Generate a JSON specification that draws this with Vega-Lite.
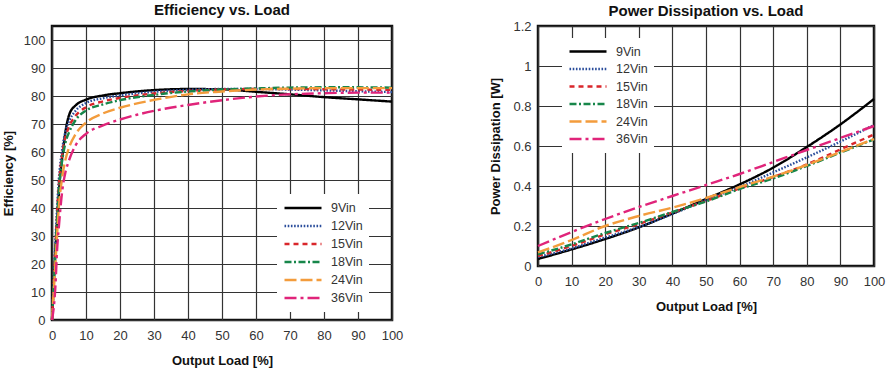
{
  "$schema": "https://vega.github.io/schema/vega-lite/v6.json",
  "background": "white",
  "padding": {"left": 1, "top": 1, "right": 2, "bottom": 0},
  "spacing": 83,
  "datasets": {
    "eff": [
      {"s":"9Vin","x":0,"y":0},{"s":"9Vin","x":0.8,"y":20},{"s":"9Vin","x":1.5,"y":35},{"s":"9Vin","x":2.3,"y":50},{"s":"9Vin","x":3.2,"y":60},{"s":"9Vin","x":4.2,"y":69},{"s":"9Vin","x":5.2,"y":73.8},{"s":"9Vin","x":7,"y":76.7},{"s":"9Vin","x":10,"y":78.7},{"s":"9Vin","x":15,"y":80.2},{"s":"9Vin","x":20,"y":81},{"s":"9Vin","x":30,"y":82.1},{"s":"9Vin","x":40,"y":82.5},{"s":"9Vin","x":50,"y":82.4},{"s":"9Vin","x":60,"y":81.5},{"s":"9Vin","x":70,"y":80.6},{"s":"9Vin","x":80,"y":79.6},{"s":"9Vin","x":90,"y":78.8},{"s":"9Vin","x":100,"y":78},
      {"s":"12Vin","x":0,"y":0},{"s":"12Vin","x":1,"y":28},{"s":"12Vin","x":2,"y":50},{"s":"12Vin","x":3,"y":61},{"s":"12Vin","x":4,"y":67.5},{"s":"12Vin","x":5,"y":71},{"s":"12Vin","x":7,"y":74.8},{"s":"12Vin","x":10,"y":77.5},{"s":"12Vin","x":15,"y":79.2},{"s":"12Vin","x":20,"y":80.2},{"s":"12Vin","x":30,"y":81.5},{"s":"12Vin","x":40,"y":82.2},{"s":"12Vin","x":50,"y":82.5},{"s":"12Vin","x":60,"y":82.5},{"s":"12Vin","x":70,"y":82.3},{"s":"12Vin","x":80,"y":82},{"s":"12Vin","x":90,"y":81.7},{"s":"12Vin","x":100,"y":81.4},
      {"s":"15Vin","x":0,"y":0},{"s":"15Vin","x":1,"y":26},{"s":"15Vin","x":2,"y":48},{"s":"15Vin","x":3,"y":59},{"s":"15Vin","x":4,"y":65.5},{"s":"15Vin","x":5,"y":69},{"s":"15Vin","x":7,"y":73},{"s":"15Vin","x":10,"y":76},{"s":"15Vin","x":15,"y":78.1},{"s":"15Vin","x":20,"y":79.3},{"s":"15Vin","x":30,"y":80.9},{"s":"15Vin","x":40,"y":81.8},{"s":"15Vin","x":50,"y":82.3},{"s":"15Vin","x":60,"y":82.5},{"s":"15Vin","x":70,"y":82.5},{"s":"15Vin","x":80,"y":82.4},{"s":"15Vin","x":90,"y":82.3},{"s":"15Vin","x":100,"y":82.2},
      {"s":"18Vin","x":0,"y":0},{"s":"18Vin","x":1,"y":24},{"s":"18Vin","x":2,"y":46},{"s":"18Vin","x":3,"y":57},{"s":"18Vin","x":4,"y":63.5},{"s":"18Vin","x":5,"y":67},{"s":"18Vin","x":7,"y":71.5},{"s":"18Vin","x":10,"y":74.8},{"s":"18Vin","x":15,"y":77},{"s":"18Vin","x":20,"y":78.5},{"s":"18Vin","x":30,"y":80.4},{"s":"18Vin","x":40,"y":81.6},{"s":"18Vin","x":50,"y":82.3},{"s":"18Vin","x":60,"y":82.7},{"s":"18Vin","x":70,"y":83},{"s":"18Vin","x":80,"y":83.1},{"s":"18Vin","x":90,"y":83.1},{"s":"18Vin","x":100,"y":83},
      {"s":"24Vin","x":0,"y":0},{"s":"24Vin","x":1,"y":20},{"s":"24Vin","x":2,"y":40},{"s":"24Vin","x":3,"y":51},{"s":"24Vin","x":4,"y":57.5},{"s":"24Vin","x":5,"y":61.5},{"s":"24Vin","x":7,"y":66.5},{"s":"24Vin","x":10,"y":70.5},{"s":"24Vin","x":15,"y":73.8},{"s":"24Vin","x":20,"y":75.8},{"s":"24Vin","x":30,"y":78.6},{"s":"24Vin","x":40,"y":80.6},{"s":"24Vin","x":50,"y":81.6},{"s":"24Vin","x":60,"y":82.3},{"s":"24Vin","x":70,"y":82.6},{"s":"24Vin","x":80,"y":82.8},{"s":"24Vin","x":90,"y":82.8},{"s":"24Vin","x":100,"y":82.8},
      {"s":"36Vin","x":0,"y":0},{"s":"36Vin","x":1,"y":12},{"s":"36Vin","x":1.5,"y":25},{"s":"36Vin","x":2,"y":33},{"s":"36Vin","x":3,"y":46},{"s":"36Vin","x":4,"y":53},{"s":"36Vin","x":5,"y":57},{"s":"36Vin","x":7,"y":62.5},{"s":"36Vin","x":10,"y":66.5},{"s":"36Vin","x":15,"y":69.5},{"s":"36Vin","x":20,"y":71.6},{"s":"36Vin","x":25,"y":73.3},{"s":"36Vin","x":30,"y":74.7},{"s":"36Vin","x":40,"y":76.8},{"s":"36Vin","x":50,"y":78.5},{"s":"36Vin","x":60,"y":79.8},{"s":"36Vin","x":70,"y":80.6},{"s":"36Vin","x":80,"y":81},{"s":"36Vin","x":90,"y":81.2},{"s":"36Vin","x":100,"y":81.2}
    ],
    "pd": [
      {"s":"9Vin","x":0,"y":0.035},{"s":"9Vin","x":10,"y":0.083},{"s":"9Vin","x":20,"y":0.135},{"s":"9Vin","x":30,"y":0.193},{"s":"9Vin","x":40,"y":0.262},{"s":"9Vin","x":50,"y":0.335},{"s":"9Vin","x":60,"y":0.408},{"s":"9Vin","x":70,"y":0.492},{"s":"9Vin","x":80,"y":0.595},{"s":"9Vin","x":90,"y":0.708},{"s":"9Vin","x":100,"y":0.835},
      {"s":"12Vin","x":0,"y":0.045},{"s":"12Vin","x":10,"y":0.088},{"s":"12Vin","x":20,"y":0.142},{"s":"12Vin","x":30,"y":0.195},{"s":"12Vin","x":40,"y":0.26},{"s":"12Vin","x":50,"y":0.33},{"s":"12Vin","x":60,"y":0.395},{"s":"12Vin","x":70,"y":0.468},{"s":"12Vin","x":80,"y":0.543},{"s":"12Vin","x":90,"y":0.622},{"s":"12Vin","x":100,"y":0.705},
      {"s":"15Vin","x":0,"y":0.05},{"s":"15Vin","x":10,"y":0.1},{"s":"15Vin","x":20,"y":0.158},{"s":"15Vin","x":30,"y":0.21},{"s":"15Vin","x":40,"y":0.268},{"s":"15Vin","x":50,"y":0.325},{"s":"15Vin","x":60,"y":0.388},{"s":"15Vin","x":70,"y":0.445},{"s":"15Vin","x":80,"y":0.508},{"s":"15Vin","x":90,"y":0.583},{"s":"15Vin","x":100,"y":0.658},
      {"s":"18Vin","x":0,"y":0.058},{"s":"18Vin","x":10,"y":0.108},{"s":"18Vin","x":20,"y":0.165},{"s":"18Vin","x":30,"y":0.215},{"s":"18Vin","x":40,"y":0.27},{"s":"18Vin","x":50,"y":0.322},{"s":"18Vin","x":60,"y":0.385},{"s":"18Vin","x":70,"y":0.438},{"s":"18Vin","x":80,"y":0.5},{"s":"18Vin","x":90,"y":0.567},{"s":"18Vin","x":100,"y":0.633},
      {"s":"24Vin","x":0,"y":0.068},{"s":"24Vin","x":10,"y":0.13},{"s":"24Vin","x":20,"y":0.2},{"s":"24Vin","x":30,"y":0.25},{"s":"24Vin","x":40,"y":0.292},{"s":"24Vin","x":50,"y":0.34},{"s":"24Vin","x":60,"y":0.395},{"s":"24Vin","x":70,"y":0.447},{"s":"24Vin","x":80,"y":0.505},{"s":"24Vin","x":90,"y":0.57},{"s":"24Vin","x":100,"y":0.635},
      {"s":"36Vin","x":0,"y":0.1},{"s":"36Vin","x":10,"y":0.17},{"s":"36Vin","x":20,"y":0.235},{"s":"36Vin","x":30,"y":0.295},{"s":"36Vin","x":40,"y":0.35},{"s":"36Vin","x":50,"y":0.405},{"s":"36Vin","x":60,"y":0.46},{"s":"36Vin","x":70,"y":0.52},{"s":"36Vin","x":80,"y":0.58},{"s":"36Vin","x":90,"y":0.64},{"s":"36Vin","x":100,"y":0.7}
    ]
  },
  "config": {
    "view": {"stroke": "#111", "strokeWidth": 2.5},
    "font": "Liberation Sans",
    "title": {"font": "Liberation Sans", "fontSize": 15, "fontWeight": "bold", "color": "#111"},
    "axis": {
      "grid": true, "gridColor": "#333", "gridWidth": 1.2, "gridOpacity": 1,
      "domain": false, "ticks": false, "labelFlush": false,
      "labelFont": "Liberation Sans", "labelFontSize": 13, "labelColor": "#333", "labelPadding": 7,
      "titleFont": "Liberation Sans", "titleFontSize": 13, "titleFontWeight": "bold", "titleColor": "#111"
    },
    "legend": {
      "labelFont": "Liberation Sans", "labelFontSize": 12.5, "labelColor": "#333",
      "symbolType": "stroke", "symbolSize": 1369, "symbolStrokeWidth": 2.5,
      "fillColor": "white", "padding": 6, "labelOffset": 8
    }
  },
  "hconcat": [
    {
      "title": {"text": "Efficiency vs. Load", "offset": 8},
      "width": 340, "height": 294,
      "data": {"name": "eff"},
      "mark": {"type": "line", "interpolate": "monotone", "strokeWidth": 2.4},
      "encoding": {
        "x": {"field": "x", "type": "quantitative", "scale": {"domain": [0, 100], "nice": false},
              "axis": {"values": [0,10,20,30,40,50,60,70,80,90,100], "title": "Output Load [%]", "labelPadding": 9, "titlePadding": 12}},
        "y": {"field": "y", "type": "quantitative", "scale": {"domain": [0, 105], "nice": false},
              "axis": {"values": [0,10,20,30,40,50,60,70,80,90,100], "title": "Efficiency [%]", "titlePadding": 8}},
        "color": {"field": "s", "type": "nominal",
                  "scale": {"domain": ["9Vin","12Vin","15Vin","18Vin","24Vin","36Vin"], "range": ["#000000","#2a4d9b","#d9262b","#17864a","#f39c3c","#e0247a"]},
                  "legend": {"title": null, "orient": "none", "legendX": 225, "legendY": 168, "clipHeight": 16, "rowPadding": 2}},
        "strokeDash": {"field": "s", "type": "nominal",
                  "scale": {"domain": ["9Vin","12Vin","15Vin","18Vin","24Vin","36Vin"], "range": [[1,0],[1.6,1.6],[5,4],[7,2.5,2,2.5],[12,4],[12,4,3,4]]},
                  "legend": {"title": null, "orient": "none", "legendX": 225, "legendY": 168, "clipHeight": 16, "rowPadding": 2}}
      }
    },
    {
      "title": {"text": "Power Dissipation vs. Load", "offset": 1.5},
      "width": 336, "height": 240,
      "data": {"name": "pd"},
      "mark": {"type": "line", "interpolate": "monotone", "strokeWidth": 2.4},
      "encoding": {
        "x": {"field": "x", "type": "quantitative", "scale": {"domain": [0, 100], "nice": false},
              "axis": {"values": [0,10,20,30,40,50,60,70,80,90,100], "title": "Output Load [%]", "labelPadding": 9, "titlePadding": 12}},
        "y": {"field": "y", "type": "quantitative", "scale": {"domain": [0, 1.2], "nice": false},
              "axis": {"values": [0,0.2,0.4,0.6,0.8,1,1.2], "format": "~g", "title": "Power Dissipation [W]", "titlePadding": 10}},
        "color": {"field": "s", "type": "nominal",
                  "scale": {"domain": ["9Vin","12Vin","15Vin","18Vin","24Vin","36Vin"], "range": ["#000000","#2a4d9b","#d9262b","#17864a","#f39c3c","#e0247a"]},
                  "legend": {"title": null, "orient": "none", "legendX": 24, "legendY": 12, "clipHeight": 15, "rowPadding": 2.5}},
        "strokeDash": {"field": "s", "type": "nominal",
                  "scale": {"domain": ["9Vin","12Vin","15Vin","18Vin","24Vin","36Vin"], "range": [[1,0],[1.6,1.6],[5,4],[7,2.5,2,2.5],[12,4],[12,4,3,4]]},
                  "legend": {"title": null, "orient": "none", "legendX": 24, "legendY": 12, "clipHeight": 15, "rowPadding": 2.5}}
      }
    }
  ],
  "resolve": {"scale": {"color": "independent", "strokeDash": "independent"}, "legend": {"color": "independent", "strokeDash": "independent"}}
}
